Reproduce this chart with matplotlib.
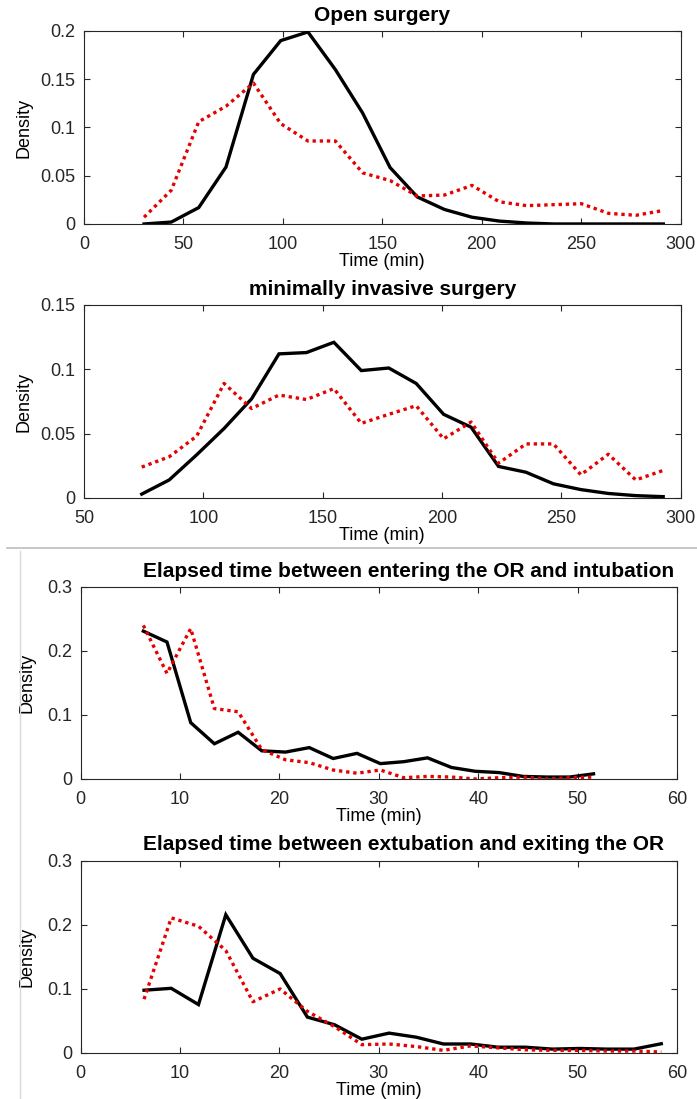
import numpy as np
import matplotlib.pyplot as plt
from matplotlib.lines import Line2D
from matplotlib.ticker import FuncFormatter

plt.rcParams['font.family'] = ['Liberation Sans', 'DejaVu Sans']

# --- dados ---
# Open surgery
x_aberta = [30.2, 43.9, 57.7, 71.4, 85.2, 98.9, 112.6, 126.4, 140.1, 153.9,
            167.6, 181.3, 195.1, 208.8, 222.6, 236.3, 250.1, 263.8, 277.5, 291.3]
preto_aberta = [0.0, 0.002, 0.017, 0.059, 0.155, 0.19, 0.199, 0.16, 0.115, 0.0585,
                0.028, 0.015, 0.007, 0.003, 0.001, 0.0, 0.0, 0.0, 0.0, 0.0]
verm_aberta = [0.007, 0.035, 0.106, 0.122, 0.146, 0.104, 0.086, 0.086, 0.053, 0.045,
               0.029, 0.03, 0.04, 0.023, 0.019, 0.02, 0.021, 0.011, 0.009, 0.014]

# minimally invasive surgery
x_mini = [74.2, 85.7, 97.2, 108.7, 120.2, 131.7, 143.2, 154.7, 166.2, 177.7,
          189.2, 200.7, 212.2, 223.7, 235.2, 246.7, 258.2, 269.7, 281.2, 292.7]
preto_mini = [0.003, 0.014, 0.0335, 0.054, 0.077, 0.112, 0.113, 0.121, 0.099, 0.101,
              0.089, 0.065, 0.055, 0.0245, 0.02, 0.011, 0.0065, 0.0035, 0.0018, 0.001]
verm_mini = [0.024, 0.032, 0.048, 0.089, 0.0695, 0.08, 0.0765, 0.085, 0.058, 0.065,
             0.0717, 0.046, 0.059, 0.027, 0.042, 0.042, 0.018, 0.034, 0.014, 0.0214]

# entering the OR -> intubation
x_intub = [6.3, 8.68, 11.07, 13.45, 15.84, 18.22, 20.6, 23.0, 25.4, 27.8,
           30.15, 32.5, 34.9, 37.3, 39.7, 42.1, 44.5, 46.9, 49.2, 51.6]
preto_intub = [0.231, 0.214, 0.088, 0.055, 0.073, 0.044, 0.042, 0.049, 0.032, 0.04,
               0.024, 0.027, 0.033, 0.018, 0.012, 0.01, 0.004, 0.003, 0.003, 0.008]
verm_intub = [0.24, 0.165, 0.235, 0.11, 0.105, 0.046, 0.03, 0.0255, 0.014, 0.009,
              0.014, 0.002, 0.004, 0.003, 0.0, 0.002, 0.003, 0.0, 0.002, 0.003]

# extubation -> exiting the OR
x_extub = [6.37, 9.11, 11.85, 14.6, 17.33, 20.07, 22.81, 25.55, 28.29, 31.03,
           33.77, 36.5, 39.24, 41.98, 44.72, 47.46, 50.2, 52.94, 55.68, 58.42]
preto_extub = [0.098, 0.101, 0.0756, 0.216, 0.148, 0.124, 0.056, 0.044, 0.0215, 0.031,
               0.0246, 0.014, 0.014, 0.009, 0.009, 0.006, 0.007, 0.006, 0.006, 0.0144]
verm_extub = [0.084, 0.211, 0.198, 0.16, 0.08, 0.1, 0.065, 0.041, 0.013, 0.014,
              0.01, 0.004, 0.011, 0.008, 0.005, 0.004, 0.004, 0.003, 0.003, 0.0015]

titulos = ['Open surgery', 'minimally invasive surgery',
           'Elapsed time between entering the OR and intubation',
           'Elapsed time between extubation and exiting the OR']

cinza = '#262626'

fig = plt.figure(figsize=(6.97, 10.99), dpi=100)

paineis = [
    # (posição, x, preto, vermelho, xlim, xticks, ylim, yticks, índice, ylabel x, título y)
    ([0.1205, 0.7962, 0.856, 0.1756], x_aberta, preto_aberta, verm_aberta,
     (0, 300), np.arange(0, 301, 50), (0, 0.2), [0, 0.05, 0.1, 0.15, 0.2], 0, -0.0855, None),
    ([0.1205, 0.5469, 0.856, 0.1756], x_mini, preto_mini, verm_mini,
     (50, 300), np.arange(50, 301, 50), (0, 0.15), [0, 0.05, 0.1, 0.15], 1, -0.0855, None),
    ([0.1158, 0.2912, 0.8555, 0.1747], x_intub, preto_intub, verm_intub,
     (0, 60), np.arange(0, 61, 10), (0, 0.3), [0, 0.1, 0.2, 0.3], 2, -0.075, 1.052),
    ([0.1158, 0.0419, 0.8555, 0.1747], x_extub, preto_extub, verm_extub,
     (0, 60), np.arange(0, 61, 10), (0, 0.3), [0, 0.1, 0.2, 0.3], 3, -0.075, 1.056),
]

for pos, x, preto, verm, xlim, xticks, ylim, yticks, i, ylab_x, tit_y in paineis:
    ax = fig.add_axes(pos)
    ax.plot(x, preto, color='black', lw=2.4, solid_joinstyle='miter', zorder=3)
    ax.plot(x, verm, color='#e60000', lw=2.4, linestyle=(0, (1, 1.15)), zorder=4)

    ax.set_xlim(*xlim)
    ax.set_ylim(*ylim)
    ax.set_xticks(xticks)
    ax.set_yticks(yticks)
    ax.yaxis.set_major_formatter(FuncFormatter(lambda v, p: '%g' % v))

    for s in ax.spines.values():
        s.set_color(cinza)
        s.set_linewidth(0.8)
    ax.tick_params(direction='in', length=4, width=0.8, color=cinza,
                   labelcolor=cinza, labelsize=13, top=True, right=True)
    ax.tick_params(axis='x', pad=9)
    ax.tick_params(axis='y', pad=6)

    ax.set_xlabel('Time (min)', fontsize=13, labelpad=0, color='black')
    ax.set_ylabel('Density', fontsize=13, color='black')
    ax.yaxis.set_label_coords(ylab_x, 0.5)

    if tit_y is None:
        ax.set_title(titulos[i], fontsize=15, fontweight='bold', pad=7)
    else:
        ax.text(0.1045, tit_y, titulos[i], transform=ax.transAxes,
                fontsize=15, fontweight='bold', ha='left', va='baseline')

# linhas de separação da imagem composta
fig.add_artist(Line2D([7 / 697, 1.0], [1 - 548.5 / 1099] * 2,
                      color='#bdbdbd', lw=1.2))
fig.add_artist(Line2D([19.5 / 697] * 2, [1 - 551 / 1099, 0.0],
                      color='#d9d9d9', lw=1.0))

fig.savefig('out.png', dpi=100)
